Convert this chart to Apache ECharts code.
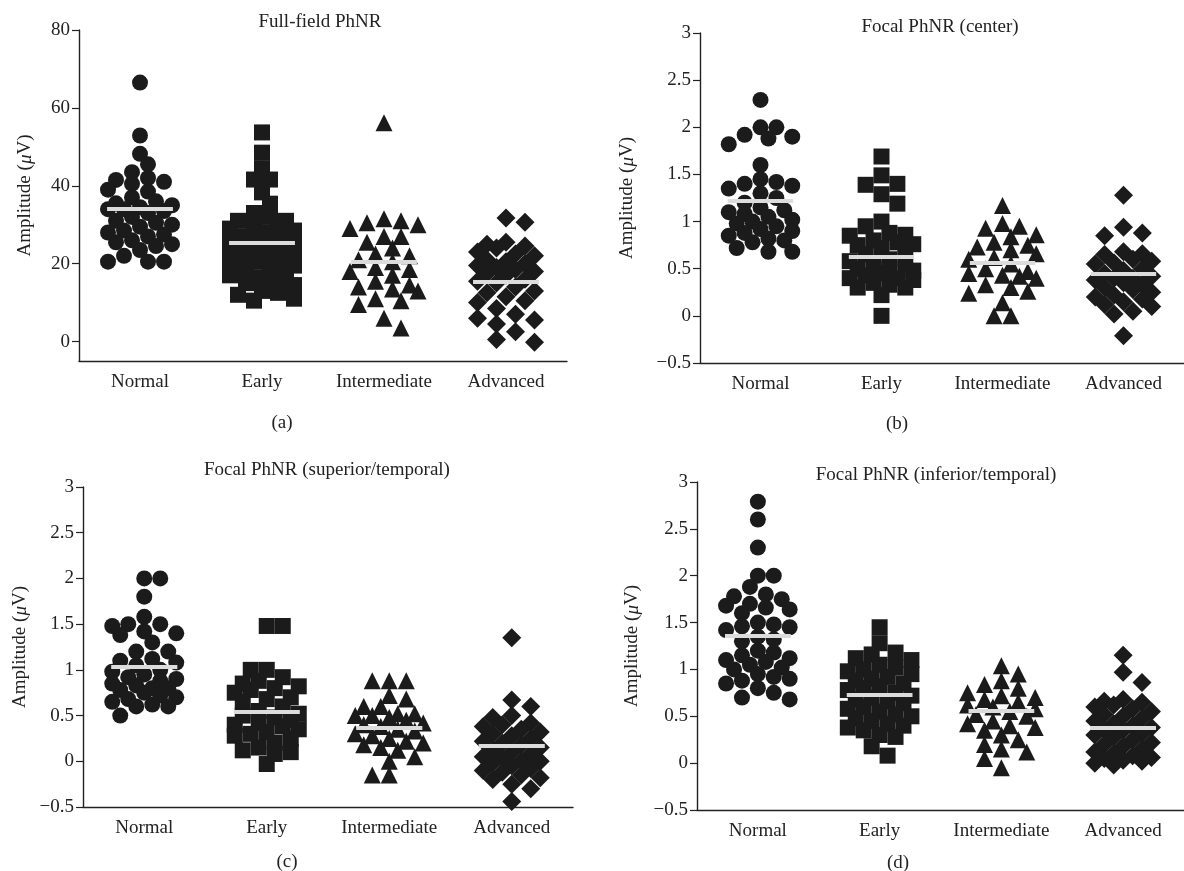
<!DOCTYPE html>
<html>
<head>
<meta charset="utf-8">
<script src="https://cdn.jsdelivr.net/npm/echarts@6/dist/echarts.min.js"></script>
<style>
  html, body { margin: 0; padding: 0; background: #fff; }
  #chart { width: 1184px; height: 871px; }
</style>
</head>
<body>
<div id="chart"></div>
<script>
// Group names along every x axis
const categories = ['Normal', 'Early', 'Intermediate', 'Advanced'];
const panelTitles = ['Full-field PhNR', 'Focal PhNR (center)', 'Focal PhNR (superior/temporal)', 'Focal PhNR (inferior/temporal)'];
const panelTags = ['(a)', '(b)', '(c)', '(d)'];

// Y tick values
const yTicksFull = [0, 20, 40, 60, 80];
const yTicksFocal = [-0.5, 0, 0.5, 1, 1.5, 2, 2.5, 3];

// (a) Full-field PhNR amplitudes (µV)
const ffNormal = [66.5, 52.9, 48.2, 45.5, 43.5, 42, 41.5, 41, 40.5, 39, 38.5, 37, 36, 35.5, 35, 34.5, 34, 34, 33.5, 33, 32, 31, 30.5, 30, 29.5, 28.5, 28, 27.5, 27, 26, 25.5, 25, 24.5, 23.5, 22, 20.5, 20.5, 20.5];
const ffEarly = [53.7, 48.5, 44.5, 41.6, 41.6, 38.3, 35.4, 33, 32, 31, 31, 30, 30, 29, 28.5, 28, 27, 27, 26.5, 26, 25, 25, 24.5, 24, 23.5, 23, 22.5, 22, 22, 21, 20.5, 20, 19.5, 19, 18.5, 18, 17, 16.5, 16, 15, 14.5, 13, 12.5, 12, 11, 10.5];
const ffIntermediate = [56.2, 31.5, 31, 30.5, 30, 29, 27, 27, 25.5, 24, 22.5, 22, 21, 20.5, 19, 18.5, 18, 17, 15.5, 14.5, 14, 13.5, 13, 11, 10.5, 9.5, 6, 3.5];
const ffAdvanced = [31.7, 30.6, 25.5, 25, 24.5, 24, 23, 22.5, 22, 21, 20.5, 20, 19.5, 19, 18.5, 18, 17.5, 17, 16, 15.5, 15, 14, 13, 12.5, 11.5, 10.5, 10, 8.5, 7, 6, 5.5, 4.5, 2.5, 0.5, -0.2];
const ffMeans = [34, 25.3, 20.5, 15.4];

// (b) Focal PhNR, center
const ctrNormal = [2.29, 2.0, 2.0, 1.92, 1.9, 1.88, 1.82, 1.6, 1.45, 1.42, 1.4, 1.38, 1.35, 1.3, 1.25, 1.2, 1.15, 1.12, 1.1, 1.08, 1.05, 1.02, 1.0, 0.98, 0.95, 0.92, 0.9, 0.88, 0.85, 0.82, 0.8, 0.78, 0.72, 0.68, 0.68];
const ctrEarly = [1.69, 1.49, 1.4, 1.39, 1.29, 1.19, 1.0, 0.95, 0.88, 0.86, 0.85, 0.8, 0.78, 0.76, 0.75, 0.72, 0.7, 0.65, 0.6, 0.58, 0.55, 0.52, 0.5, 0.5, 0.48, 0.45, 0.43, 0.4, 0.4, 0.38, 0.35, 0.33, 0.3, 0.3, 0.22, 0.0];
const ctrIntermediate = [1.17, 0.98, 0.95, 0.93, 0.86, 0.84, 0.78, 0.75, 0.73, 0.7, 0.66, 0.62, 0.6, 0.55, 0.5, 0.47, 0.45, 0.43, 0.42, 0.4, 0.33, 0.3, 0.26, 0.24, 0.14, 0.0, 0.0];
const ctrAdvanced = [1.28, 0.94, 0.88, 0.85, 0.68, 0.66, 0.65, 0.6, 0.58, 0.56, 0.55, 0.5, 0.48, 0.45, 0.42, 0.4, 0.4, 0.38, 0.35, 0.33, 0.3, 0.28, 0.25, 0.22, 0.2, 0.18, 0.15, 0.12, 0.1, 0.05, 0.02, -0.21];
const ctrMeans = [1.22, 0.63, 0.56, 0.45];

// (c) Focal PhNR, superior/temporal
const supNormal = [2.0, 2.0, 1.8, 1.58, 1.5, 1.5, 1.48, 1.42, 1.4, 1.38, 1.3, 1.2, 1.2, 1.12, 1.1, 1.08, 1.05, 1.0, 0.98, 0.95, 0.92, 0.9, 0.88, 0.85, 0.83, 0.8, 0.8, 0.78, 0.75, 0.72, 0.7, 0.68, 0.65, 0.62, 0.6, 0.6, 0.5];
const supEarly = [1.48, 1.48, 1.0, 1.0, 0.92, 0.88, 0.85, 0.82, 0.8, 0.78, 0.75, 0.7, 0.68, 0.65, 0.6, 0.55, 0.52, 0.5, 0.48, 0.45, 0.42, 0.4, 0.38, 0.35, 0.32, 0.3, 0.28, 0.25, 0.2, 0.15, 0.12, 0.1, 0.08, -0.03];
const supIntermediate = [0.88, 0.88, 0.88, 0.72, 0.68, 0.6, 0.6, 0.52, 0.52, 0.5, 0.5, 0.48, 0.45, 0.42, 0.4, 0.38, 0.35, 0.33, 0.3, 0.28, 0.25, 0.22, 0.2, 0.18, 0.15, 0.12, 0.05, 0.0, -0.15, -0.15];
const supAdvanced = [1.35, 0.67, 0.6, 0.5, 0.48, 0.42, 0.4, 0.38, 0.35, 0.32, 0.3, 0.28, 0.25, 0.22, 0.2, 0.18, 0.15, 0.12, 0.1, 0.08, 0.05, 0.03, 0.0, 0.0, -0.02, -0.05, -0.08, -0.1, -0.12, -0.15, -0.18, -0.2, -0.25, -0.3, -0.44];
const supMeans = [1.03, 0.54, 0.37, 0.17];

// (d) Focal PhNR, inferior/temporal
const infNormal = [2.79, 2.6, 2.3, 2.0, 2.0, 1.88, 1.8, 1.78, 1.75, 1.7, 1.68, 1.66, 1.64, 1.6, 1.5, 1.48, 1.46, 1.45, 1.42, 1.35, 1.32, 1.3, 1.2, 1.18, 1.15, 1.12, 1.1, 1.08, 1.05, 1.02, 1.0, 0.95, 0.92, 0.9, 0.88, 0.85, 0.8, 0.75, 0.7, 0.68];
const infEarly = [1.45, 1.28, 1.18, 1.16, 1.12, 1.1, 1.05, 1.02, 1.0, 0.98, 0.95, 0.92, 0.9, 0.88, 0.85, 0.82, 0.8, 0.78, 0.75, 0.72, 0.7, 0.68, 0.66, 0.64, 0.6, 0.58, 0.55, 0.52, 0.5, 0.48, 0.45, 0.42, 0.4, 0.38, 0.35, 0.3, 0.28, 0.18, 0.08];
const infIntermediate = [1.04, 0.95, 0.88, 0.84, 0.8, 0.75, 0.72, 0.7, 0.68, 0.65, 0.62, 0.6, 0.58, 0.55, 0.52, 0.5, 0.45, 0.42, 0.4, 0.38, 0.35, 0.3, 0.25, 0.2, 0.15, 0.12, 0.05, -0.05];
const infAdvanced = [1.15, 0.97, 0.86, 0.68, 0.66, 0.65, 0.62, 0.6, 0.58, 0.55, 0.52, 0.5, 0.48, 0.45, 0.42, 0.4, 0.38, 0.36, 0.35, 0.32, 0.3, 0.28, 0.25, 0.22, 0.2, 0.18, 0.15, 0.12, 0.1, 0.08, 0.06, 0.05, 0.03, 0.02, 0.0, -0.02];
const infMeans = [1.36, 0.73, 0.56, 0.38];

const FONT = '"Liberation Serif", "DejaVu Serif", serif';
const INK = '#1b1b1b';
const TEXT = '#222';

// Marker shape and size per group
const symbols = ['circle', 'rect', 'triangle', 'diamond'];
const symbolSizes = [16, 16, 17, 19];

// Panel frames
const panels = [
  { left: 79, top: 30, width: 488, height: 331, min: -5, max: 80, ticks: yTicksFull,
    groups: [ffNormal, ffEarly, ffIntermediate, ffAdvanced], means: ffMeans,
    nameGap: 44, titleX: 320, titleY: 22, tagX: 282, tagY: 423 },
  { left: 700, top: 33, width: 488, height: 330, min: -0.5, max: 3, ticks: yTicksFocal,
    groups: [ctrNormal, ctrEarly, ctrIntermediate, ctrAdvanced], means: ctrMeans,
    nameGap: 63, titleX: 940, titleY: 27, tagX: 897, tagY: 424 },
  { left: 83, top: 487, width: 490, height: 320, min: -0.5, max: 3, ticks: yTicksFocal,
    groups: [supNormal, supEarly, supIntermediate, supAdvanced], means: supMeans,
    nameGap: 53, titleX: 327, titleY: 470, tagX: 287, tagY: 862 },
  { left: 697, top: 482, width: 490, height: 328, min: -0.5, max: 3, ticks: yTicksFocal,
    groups: [infNormal, infEarly, infIntermediate, infAdvanced], means: infMeans,
    nameGap: 55, titleX: 936, titleY: 475, tagX: 898, tagY: 863 }
];

// Spread close values sideways (beeswarm): returns a pixel offset for each value
function swarm(values, pxPerUnit, size) {
  const order = values.map((v, i) => i).sort((a, b) => values[b] - values[a]);
  const placed = [];
  const out = new Array(values.length);
  const minD = size * 0.78, step = size * 0.5, maxK = Math.floor(34 / step);
  let side = 1;
  for (const i of order) {
    const y = values[i] * pxPerUnit;
    let chosen = null, bestScore = -1, bestC = 0;
    for (let k = 0; k <= maxK && chosen === null; k++) {
      const cands = k === 0 ? [0] : [side * k * step, -side * k * step];
      for (const c of cands) {
        let md = Infinity;
        for (const p of placed) md = Math.min(md, Math.hypot(p.x - c, p.y - y));
        if (md >= minD) { chosen = c; break; }
        if (md > bestScore) { bestScore = md; bestC = c; }
      }
    }
    if (chosen === null) chosen = bestC;
    if (chosen !== 0) side = -Math.sign(chosen);
    placed.push({ x: chosen, y });
    out[i] = chosen;
  }
  return out;
}

const minusFmt = v => String(v).replace('-', '\u2212');

const grid = [], xAxis = [], yAxis = [], series = [], graphic = [];

panels.forEach((p, pi) => {
  grid.push({ left: p.left, top: p.top, width: p.width, height: p.height, containLabel: false });

  // category axis carries the bottom line and group labels
  xAxis.push({
    type: 'category', gridIndex: pi, data: categories, boundaryGap: true, position: 'bottom',
    axisLine: { show: true, onZero: false, lineStyle: { color: TEXT, width: 1.4 } },
    axisTick: { show: false },
    axisLabel: { fontFamily: FONT, fontSize: 19, color: TEXT, margin: 12, interval: 0 },
    splitLine: { show: false }
  });
  // value axis positions the spread points
  xAxis.push({ type: 'value', gridIndex: pi, min: 0, max: 4, show: false });

  const isFull = pi === 0;
  yAxis.push({
    type: 'value', gridIndex: pi, min: p.min, max: p.max,
    interval: isFull ? undefined : 0.5,
    name: 'Amplitude ({i|\u03bc}V)',
    nameLocation: 'middle', nameGap: p.nameGap, nameRotate: 90,
    nameTextStyle: { fontFamily: FONT, fontSize: 19, color: TEXT,
      rich: { i: { fontFamily: FONT, fontSize: 19, fontStyle: 'italic', color: TEXT } } },
    axisLine: { show: true, onZero: false, lineStyle: { color: TEXT, width: 1.4 } },
    axisTick: Object.assign({ show: true, length: 7, inside: false, lineStyle: { color: TEXT, width: 1.2 } },
      isFull ? { customValues: p.ticks } : {}),
    axisLabel: Object.assign({ fontFamily: FONT, fontSize: 19, color: TEXT, margin: 9, formatter: minusFmt },
      isFull ? { customValues: p.ticks } : {}),
    splitLine: { show: false }
  });

  const pxPerUnit = p.height / (p.max - p.min);
  const pxPerX = p.width / 4;

  p.groups.forEach((vals, gi) => {
    const offs = swarm(vals, pxPerUnit, symbolSizes[gi]);
    const centre = gi + 0.5;
    const data = vals.map((v, i) => [centre + offs[i] / pxPerX, v]);
    series.push({
      type: 'scatter', xAxisIndex: pi * 2 + 1, yAxisIndex: pi,
      symbol: symbols[gi], symbolSize: symbolSizes[gi],
      itemStyle: { color: INK, opacity: 1 },
      data,
      silent: true,
      markLine: {
        silent: true, symbol: ['none', 'none'], animation: false,
        label: { show: false },
        lineStyle: { color: '#dcdcdc', width: 4, type: 'solid', opacity: 1 },
        data: [[{ coord: [centre - 0.27, p.means[gi]] }, { coord: [centre + 0.27, p.means[gi]] }]]
      }
    });
  });

  graphic.push({
    type: 'text', x: p.titleX, y: p.titleY,
    style: { text: panelTitles[pi], font: '19px ' + FONT, fill: TEXT, align: 'center', verticalAlign: 'middle' }
  });
  graphic.push({
    type: 'text', x: p.tagX, y: p.tagY,
    style: { text: panelTags[pi], font: '19px ' + FONT, fill: TEXT, align: 'center', verticalAlign: 'middle' }
  });
});

const chart = echarts.init(document.getElementById('chart'), null, { renderer: 'canvas' });
chart.setOption({
  backgroundColor: '#fff',
  animation: false,
  grid, xAxis, yAxis, series, graphic
});
</script>
</body>
</html>
